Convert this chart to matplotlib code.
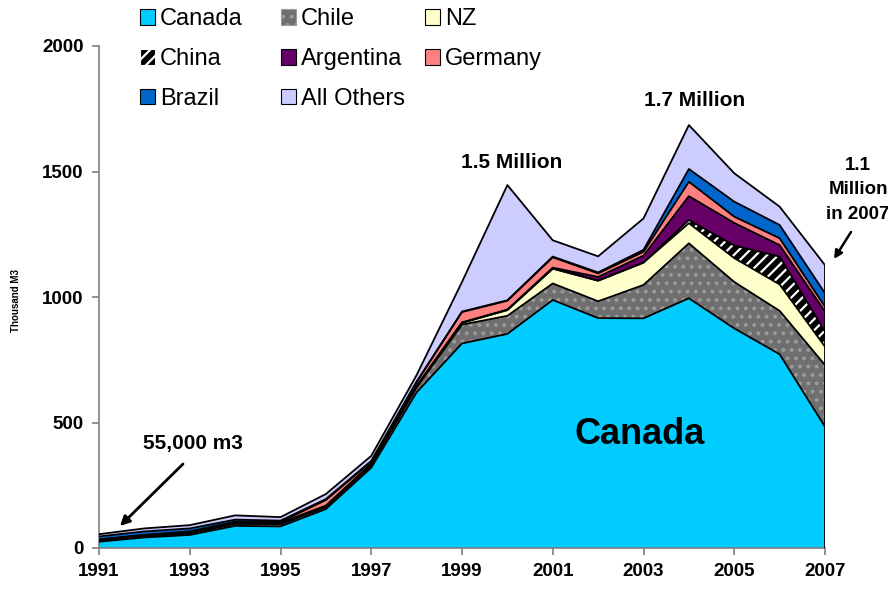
import numpy as np
import matplotlib
matplotlib.use("Agg")
import matplotlib.pyplot as plt
from matplotlib.patches import Patch

plt.rcParams['font.family'] = ['Liberation Sans', 'DejaVu Sans']
plt.rcParams['hatch.linewidth'] = 1.6

years = list(range(1991, 2008))
canada    = [25, 42, 52, 88, 86, 155, 320, 620, 815, 853, 988, 916, 915, 995, 875, 772, 483]
chile     = [4, 5, 6, 8, 8, 8, 10, 20, 75, 72, 66, 67, 133, 219, 185, 173, 246]
nz        = [2, 2, 3, 3, 3, 3, 3, 4, 7, 23, 59, 82, 89, 80, 95, 105, 73]
china     = [0, 0, 0, 0, 0, 0, 0, 0, 0, 0, 0, 0, 0, 13, 50, 111, 60]
argentina = [3, 3, 4, 4, 4, 3, 3, 2, 2, 2, 4, 15, 28, 95, 90, 46, 80]
germany   = [0, 0, 1, 2, 3, 22, 8, 15, 41, 35, 41, 14, 15, 57, 25, 27, 19]
brazil    = [12, 14, 12, 8, 5, 4, 3, 2, 2, 2, 3, 4, 8, 51, 60, 53, 54]
others    = [9, 12, 13, 17, 14, 20, 20, 26, 118, 459, 65, 64, 125, 175, 113, 73, 112]

names = ["Canada", "Chile", "NZ", "China", "Argentina", "Germany", "Brazil", "All Others"]
data = [canada, chile, nz, china, argentina, germany, brazil, others]
faces = ["#00CCFF", "#6f6f6f", "#FFFFCC", "#000000", "#660066", "#FF8080", "#0066CC", "#CCCCFF"]
hatches = [None, "..", None, "///", None, None, None, None]
hatch_colors = ["none", "#9a9a9a", "none", "#ffffff", "none", "none", "none", "none"]

fig = plt.figure(figsize=(8.88, 5.9), dpi=100)
ax = fig.add_axes([99/888, 1-548/590, (825-99)/888, (548-46)/590])

x = np.array(years)
cum = np.zeros(len(years))
handles = []
for name, vals, fc, h, hc in zip(names, data, faces, hatches, hatch_colors):
    upper = cum + np.array(vals, dtype=float)
    ax.fill_between(x, cum, upper, facecolor=fc, hatch=h, edgecolor=hc, linewidth=0, zorder=2)
    ax.plot(x, upper, color="black", lw=1.3, zorder=3)
    ec = hc if h else "black"
    handles.append(Patch(facecolor=fc, hatch=h, edgecolor=ec, linewidth=0.8))
    cum = upper
ax.plot([x[-1], x[-1]], [0, cum[-1]], color="black", lw=1.3, zorder=3)

ax.set_xlim(1991, 2007)
ax.set_ylim(0, 2000)
ax.set_xticks(years[::2])
ax.set_yticks(range(0, 2001, 500))
for s in ["top", "right"]:
    ax.spines[s].set_visible(False)
for s in ["left", "bottom"]:
    ax.spines[s].set_color("#808080")
    ax.spines[s].set_linewidth(1.2)
ax.tick_params(axis="both", direction="out", length=5, color="#808080", width=1.2)
ax.tick_params(axis="x", labelsize=13.5, pad=6)
ax.tick_params(axis="y", labelsize=13.5, pad=6)
for lab in ax.get_xticklabels() + ax.get_yticklabels():
    lab.set_fontweight("bold")

fig.text(16/888, 1-300/590, "Thousand M3", rotation=90, ha="center", va="center",
         fontsize=7, fontweight="bold")

# legend laid out as three columns, filled row by row like the reference
columns = [[0, 3, 6], [1, 4, 7], [2, 5]]
col_x = [140, 281, 425]
for idxs, cx in zip(columns, col_x):
    fig.legend([handles[i] for i in idxs], [names[i] for i in idxs], ncol=1,
               loc="upper left", bbox_to_anchor=(cx/888, 1-8/590), frameon=False,
               fontsize=17, handlelength=0.65, handleheight=0.65, handletextpad=0.2,
               labelspacing=0.76, borderpad=0, borderaxespad=0)

def dx(px):
    return 1991 + (px - 99) / 45.375

def dy(py):
    return (548 - py) * 2000 / 502

ax.text(dx(193), dy(443), "55,000 m3", ha="center", va="center", fontsize=15, fontweight="bold")
ax.annotate("", xy=(dx(120), dy(526)), xytext=(dx(183), dy(464)),
            arrowprops=dict(arrowstyle="-|>", color="black", lw=2, shrinkA=0, shrinkB=0,
                            mutation_scale=14))
ax.text(dx(512), dy(163), "1.5 Million", ha="center", va="center", fontsize=15, fontweight="bold")
ax.text(dx(695), dy(101), "1.7 Million", ha="center", va="center", fontsize=15, fontweight="bold")
ax.text(dx(858), dy(190), "1.1\nMillion\nin 2007", ha="center", va="center", fontsize=13.5,
        fontweight="bold", linespacing=1.55, clip_on=False)
ax.annotate("", xy=(dx(834), dy(259)), xytext=(dx(851), dy(232)),
            annotation_clip=False,
            arrowprops=dict(arrowstyle="-|>", color="black", lw=1.8, shrinkA=0, shrinkB=0,
                            mutation_scale=12))
ax.text(dx(640), dy(435), "Canada", ha="center", va="center", fontsize=26, fontweight="bold",
        zorder=5)

fig.savefig("out.png", dpi=100)
